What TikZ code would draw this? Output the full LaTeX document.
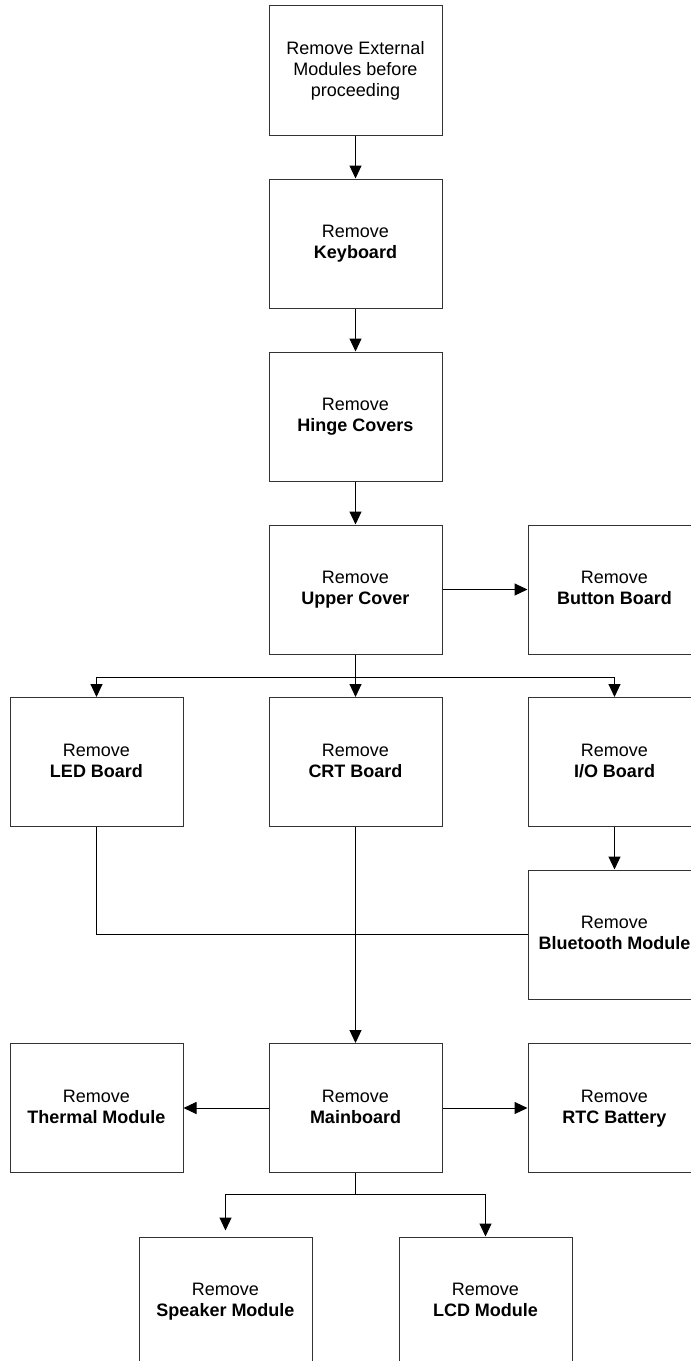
\documentclass[tikz,border=0pt]{standalone}
\usepackage{fontspec}
\setmainfont{Liberation Sans}
\usetikzlibrary{arrows.meta}
\tikzset{
  box/.style={draw=black!80, line width=1pt, minimum width=173pt, minimum height=129pt,
    inner sep=0pt, align=center, text depth=3pt, font=\fontsize{18}{21}\selectfont},
  conn/.style={line width=1pt, draw=black},
  arr/.style={conn, -{Triangle[length=13pt,width=12pt]}}
}
\begin{document}
\begin{tikzpicture}[x=1pt,y=-1pt]
\useasboundingbox (0,0) rectangle (691,1361);
\clip (0,0) rectangle (691,1361);
\node[box, minimum height=130pt] (ext) at (355.5,70) {Remove External\\Modules before\\proceeding};
\node[box] (kb) at (355.5,243.5) {Remove\\\textbf{Keyboard}};
\node[box] (hc) at (355.5,416.5) {Remove\\\textbf{Hinge Covers}};
\node[box] (uc) at (355.5,589.5) {Remove\\\textbf{Upper Cover}};
\node[box] (bb) at (614.5,589.5) {Remove\\\textbf{Button Board}};
\node[box] (led) at (96.5,762) {Remove\\\textbf{LED Board}};
\node[box] (crt) at (355.5,762) {Remove\\\textbf{CRT Board}};
\node[box] (io) at (614.5,762) {Remove\\\textbf{I/O Board}};
\node[box] (bt) at (614.5,934.5) {Remove\\\textbf{Bluetooth Module}};
\node[box] (mb) at (355.5,1108) {Remove\\\textbf{Mainboard}};
\node[box] (th) at (96.5,1108) {Remove\\\textbf{Thermal Module}};
\node[box] (rtc) at (614.5,1108) {Remove\\\textbf{RTC Battery}};
\node[box] (spk) at (225.5,1301.5) {Remove\\\textbf{Speaker Module}};
\node[box] (lcd) at (485.5,1301.5) {Remove\\\textbf{LCD Module}};
\coordinate (j1) at (355.5,677);
\coordinate (j2) at (355.5,1194);
\draw[arr] (ext) -- (kb);
\draw[arr] (kb) -- (hc);
\draw[arr] (hc) -- (uc);
\draw[arr] (uc) -- (bb);
\draw[conn] (uc.south) -- (j1);
\draw[arr] (j1) -| (led.north);
\draw[arr] (j1) -- (crt.north);
\draw[arr] (j1) -| (io.north);
\draw[arr] (io) -- (bt);
\draw[conn] (led.south) |- (bt.west);
\draw[arr] (crt.south) -- (mb.north);
\draw[arr] (mb) -- (th);
\draw[arr] (mb) -- (rtc);
\draw[conn] (mb.south) -- (j2);
\draw[arr, shorten >=6pt] (j2) -| (spk.north);
\draw[arr] (j2) -| (lcd.north);
\end{tikzpicture}
\end{document}
